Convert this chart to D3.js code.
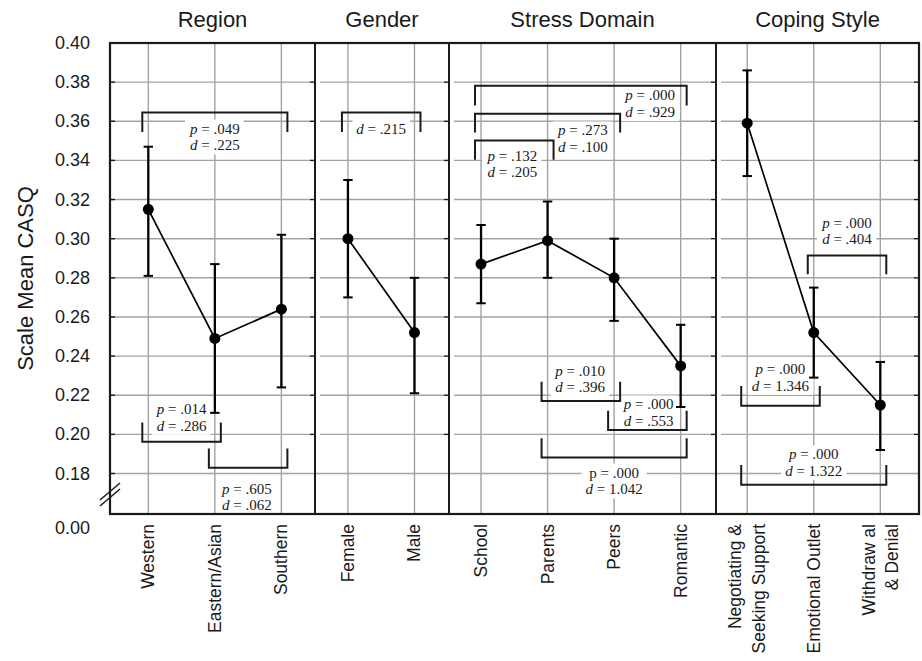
<!DOCTYPE html>
<html><head><meta charset="utf-8">
<script src="https://cdn.jsdelivr.net/npm/d3@7/dist/d3.min.js"></script>
<style>body{margin:0;background:#fff;} svg{display:block;}</style>
</head><body>
<svg id="c" width="922" height="661"></svg>
<script>
// ---------------- data ----------------
const groups = ["Region", "Gender", "Stress Domain", "Coping Style"];
const categories = ["Western", "Eastern/Asian", "Southern", "Female", "Male",
  "School", "Parents", "Peers", "Romantic",
  "Negotiating & Seeking Support", "Emotional Outlet", "Withdrawal & Denial"];
const categoryGroup = ["Region", "Region", "Region", "Gender", "Gender",
  "Stress Domain", "Stress Domain", "Stress Domain", "Stress Domain",
  "Coping Style", "Coping Style", "Coping Style"];
const categoryLabelLines = [["Western"], ["Eastern/Asian"], ["Southern"], ["Female"], ["Male"],
  ["School"], ["Parents"], ["Peers"], ["Romantic"],
  ["Negotiating &", "Seeking Support"], ["Emotional Outlet"], ["Withdraw al", "& Denial"]];
const means = [0.315, 0.249, 0.264, 0.300, 0.252, 0.287, 0.299, 0.280, 0.235, 0.359, 0.252, 0.215];
const upper = [0.347, 0.287, 0.302, 0.330, 0.280, 0.307, 0.319, 0.300, 0.256, 0.386, 0.275, 0.237];
const lower = [0.281, 0.211, 0.224, 0.270, 0.221, 0.267, 0.280, 0.258, 0.214, 0.332, 0.229, 0.192];
const yTicks = [0.18, 0.20, 0.22, 0.24, 0.26, 0.28, 0.30, 0.32, 0.34, 0.36, 0.38, 0.40];
const brokenTickLabel = "0.00";
const yTitle = "Scale Mean CASQ";

// comparison brackets: from/to category, bar value, leg-tip value, label centre (category index, value), label lines
const brackets = [
  {from: "Western", to: "Southern", bar: 0.3645, leg: 0.3545, at: 1.0, ly: 0.3562, lines: [["p", " = .049"], ["d", " = .225"]]},
  {from: "Western", to: "Eastern/Asian", bar: 0.1962, leg: 0.2061, at: 0.5, ly: 0.2129, lines: [["p", " = .014"], ["d", " = .286"]]},
  {from: "Eastern/Asian", to: "Southern", bar: 0.1830, leg: 0.1928, at: 1.48, ly: 0.1723, lines: [["p", " = .605"], ["d", " = .062"]]},
  {from: "Female", to: "Male", bar: 0.3645, leg: 0.3545, at: 3.5, ly: 0.3562, lines: [["d", " = .215"]]},
  {from: "School", to: "Romantic", bar: 0.3782, leg: 0.3681, at: 7.54, ly: 0.3732, lines: [["p", " = .000"], ["d", " = .929"]]},
  {from: "School", to: "Peers", bar: 0.3638, leg: 0.3543, at: 6.53, ly: 0.3553, lines: [["p", " = .273"], ["d", " = .100"]]},
  {from: "School", to: "Parents", bar: 0.3502, leg: 0.3403, at: 5.47, ly: 0.3425, lines: [["p", " = .132"], ["d", " = .205"]]},
  {from: "Parents", to: "Peers", bar: 0.2170, leg: 0.2269, at: 6.49, ly: 0.2325, lines: [["p", " = .010"], ["d", " = .396"]]},
  {from: "Peers", to: "Romantic", bar: 0.2022, leg: 0.2121, at: 7.52, ly: 0.2153, lines: [["p", " = .000"], ["d", " = .553"]]},
  {from: "Parents", to: "Romantic", bar: 0.1882, leg: 0.1980, at: 7.0, ly: 0.1804, lines: [["", "p = .000"], ["d", " = 1.042"]]},
  {from: "Emotional Outlet", to: "Withdrawal & Denial", bar: 0.2914, leg: 0.2818, at: 10.5, ly: 0.3082, lines: [["p", " = .000"], ["d", " = .404"]]},
  {from: "Negotiating & Seeking Support", to: "Emotional Outlet", bar: 0.2146, leg: 0.2247, at: 9.5, ly: 0.2333, lines: [["p", " = .000"], ["d", " = 1.346"]]},
  {from: "Negotiating & Seeking Support", to: "Withdrawal & Denial", bar: 0.1742, leg: 0.1844, at: 10.0, ly: 0.1898, lines: [["p", " = .000"], ["d", " = 1.322"]]}
];

// ---------------- layout ----------------
const panelEdges = [110, 315, 449, 716, 919];
const plotTop = 43, plotBottom = 514;
const SANS = "'Liberation Sans', Arial, Helvetica, sans-serif";
const SERIF = "'Liberation Serif', 'Times New Roman', serif";
const INK = "#1a1a1a", GRID = "#a3a3a3";

const svg = d3.select("#c");
const y = d3.scaleLinear().domain([0.18, 0.40]).range([473.5, 43]);
const x = d3.scalePoint().domain(categories).range([148.3, 880.3]);
const xi = d3.scaleLinear().domain([0, categories.length - 1]).range(x.range());

// vertical gridlines
svg.append("g").selectAll("line").data(categories).join("line")
  .attr("x1", d => x(d)).attr("x2", d => x(d))
  .attr("y1", plotTop).attr("y2", plotBottom)
  .attr("stroke", GRID).attr("stroke-width", 1.4);

// horizontal gridlines per panel
const hg = svg.append("g");
groups.forEach((g, p) => {
  const L = panelEdges[p], R = panelEdges[p + 1];
  yTicks.forEach(t => {
    if (t === yTicks[0] || t === yTicks[yTicks.length - 1]) return;
    hg.append("line").attr("x1", p === 0 ? L : L + 5).attr("x2", R - 5)
      .attr("y1", y(t)).attr("y2", y(t)).attr("stroke", GRID).attr("stroke-width", 1.4);
    hg.append("line").attr("x1", R - 5).attr("x2", R)
      .attr("y1", y(t)).attr("y2", y(t)).attr("stroke", INK).attr("stroke-width", 1.4);
    if (p === 0) hg.append("line").attr("x1", L).attr("x2", L + 5)
      .attr("y1", y(t)).attr("y2", y(t)).attr("stroke", INK).attr("stroke-width", 1.4);
  });
});
// bottom gridline (0.18) spans the whole plot
hg.append("line").attr("x1", panelEdges[0]).attr("x2", panelEdges[4])
  .attr("y1", y(yTicks[0])).attr("y2", y(yTicks[0])).attr("stroke", GRID).attr("stroke-width", 1.4);
hg.append("line").attr("x1", panelEdges[0]).attr("x2", panelEdges[0] + 5)
  .attr("y1", y(yTicks[0])).attr("y2", y(yTicks[0])).attr("stroke", INK).attr("stroke-width", 1.4);

// annotation labels (white boxes, then brackets, then text)
const boxLayer = svg.append("g");
const bracketLayer = svg.append("g");
const textLayer = svg.append("g");
brackets.forEach(b => {
  const xl = x(b.from) - 6, xr = x(b.to) + 6;
  bracketLayer.append("path")
    .attr("d", `M${xl},${y(b.leg)}V${y(b.bar)}H${xr}V${y(b.leg)}`)
    .attr("fill", "none").attr("stroke", INK).attr("stroke-width", 2);
  const cx = xi(b.at), cy = y(b.ly);
  const tg = textLayer.append("g");
  b.lines.forEach((ln, i) => {
    const t = tg.append("text").attr("x", cx).attr("y", cy + i * 16.7)
      .attr("text-anchor", "middle").attr("dominant-baseline", "central")
      .attr("font-family", SERIF).attr("font-size", 15).attr("fill", INK);
    if (ln[0]) t.append("tspan").attr("font-style", "italic").text(ln[0]);
    t.append("tspan").text(ln[1]);
  });
  const bb = tg.node().getBBox();
  boxLayer.append("rect").attr("x", bb.x - 4).attr("y", bb.y - 1)
    .attr("width", bb.width + 8).attr("height", bb.height + 2).attr("fill", "#fff");
});

// frame and panel dividers
svg.append("rect").attr("x", panelEdges[0]).attr("y", plotTop)
  .attr("width", panelEdges[4] - panelEdges[0]).attr("height", plotBottom - plotTop)
  .attr("fill", "none").attr("stroke", INK).attr("stroke-width", 2.2);
svg.append("g").selectAll("line").data(panelEdges.slice(1, 4)).join("line")
  .attr("x1", d => d).attr("x2", d => d).attr("y1", plotTop).attr("y2", plotBottom)
  .attr("stroke", INK).attr("stroke-width", 2);

// axis break marks
const brk = svg.append("g").attr("stroke", INK).attr("stroke-width", 1.5);
[0, 6].forEach(o => brk.append("line").attr("x1", 100).attr("y1", 500 + o).attr("x2", 120).attr("y2", 483 + o));

// y tick labels
svg.append("g").selectAll("text").data(yTicks).join("text")
  .attr("x", 90).attr("y", d => y(d)).attr("text-anchor", "end").attr("dominant-baseline", "central")
  .attr("font-family", SANS).attr("font-size", 18).attr("fill", INK)
  .text(d => d3.format(".2f")(d));
svg.append("text").attr("x", 90).attr("y", plotBottom + 14).attr("text-anchor", "end")
  .attr("dominant-baseline", "central").attr("font-family", SANS).attr("font-size", 18)
  .attr("fill", INK).text(brokenTickLabel);

// y title
svg.append("text").attr("transform", `translate(33,${(plotTop + plotBottom) / 2}) rotate(-90)`)
  .attr("text-anchor", "middle").attr("font-family", SANS).attr("font-size", 22)
  .attr("fill", INK).text(yTitle);

// panel titles
svg.append("g").selectAll("text").data(groups).join("text")
  .attr("x", (d, i) => (panelEdges[i] + panelEdges[i + 1]) / 2).attr("y", 27)
  .attr("text-anchor", "middle").attr("font-family", SANS).attr("font-size", 22)
  .attr("fill", INK).text(d => d);

// x category labels
categories.forEach((c, i) => {
  const lines = categoryLabelLines[i];
  lines.forEach((ln, j) => {
    const off = (j - (lines.length - 1) / 2) * 23.5;
    svg.append("text").attr("transform", `translate(${x(c) + off},524) rotate(-90)`)
      .attr("text-anchor", "end").attr("dominant-baseline", "central")
      .attr("font-family", SANS).attr("font-size", 17.5).attr("fill", INK).text(ln);
  });
});

// data: lines per group, error bars, points
const dataLayer = svg.append("g");
const line = d3.line().x(d => x(d)).y(d => y(means[categories.indexOf(d)]));
groups.forEach(g => {
  const cats = categories.filter((c, i) => categoryGroup[i] === g);
  dataLayer.append("path").attr("d", line(cats)).attr("fill", "none")
    .attr("stroke", "#000").attr("stroke-width", 1.7);
});
categories.forEach((c, i) => {
  const cx = x(c);
  dataLayer.append("line").attr("x1", cx).attr("x2", cx).attr("y1", y(lower[i])).attr("y2", y(upper[i]))
    .attr("stroke", "#000").attr("stroke-width", 2.3);
  [lower[i], upper[i]].forEach(v => dataLayer.append("line")
    .attr("x1", cx - 4.7).attr("x2", cx + 4.7).attr("y1", y(v)).attr("y2", y(v))
    .attr("stroke", "#000").attr("stroke-width", 2));
  dataLayer.append("circle").attr("cx", cx).attr("cy", y(means[i])).attr("r", 5.5).attr("fill", "#000");
});
</script>
</body></html>
